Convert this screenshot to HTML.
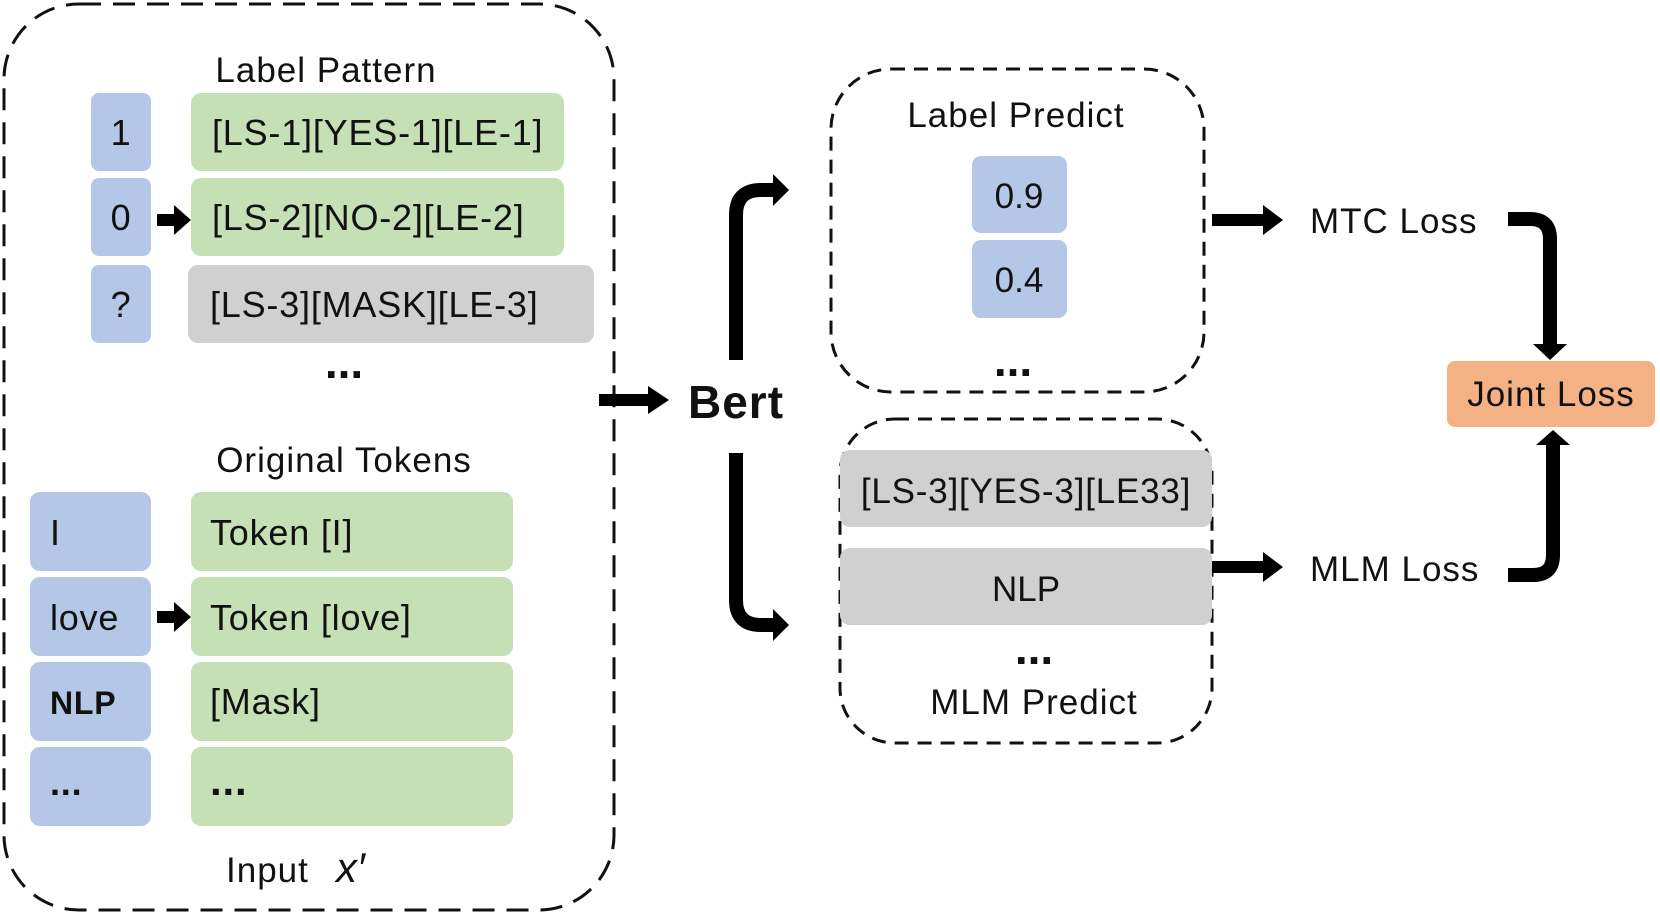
<!DOCTYPE html>
<html><head><meta charset="utf-8"><style>
body{margin:0;background:#fff;}
svg text{font-family:"Liberation Sans",sans-serif;fill:#111;}
</style></head><body>
<svg width="1660" height="918" viewBox="0 0 1660 918" xmlns="http://www.w3.org/2000/svg">
<rect x="4" y="4" width="610" height="906" rx="75" fill="none" stroke="#111" stroke-width="3" stroke-dasharray="22,12"/>
<text x="326" y="82" font-size="35" text-anchor="middle" letter-spacing="1">Label Pattern</text>
<g fill="#b4c7e7">
<rect x="91" y="93" width="60" height="78" rx="8"/>
<rect x="91" y="178" width="60" height="78" rx="8"/>
<rect x="91" y="265" width="60" height="78" rx="8"/>
</g>
<g fill="#c5e0b4">
<rect x="191" y="93" width="373" height="78" rx="10"/>
<rect x="191" y="178" width="373" height="78" rx="10"/>
</g>
<rect x="188" y="265" width="406" height="78" rx="10" fill="#d0d0d0"/>
<g font-size="36" letter-spacing="0.8">
<text x="121" y="145" text-anchor="middle">1</text>
<text x="121" y="230" text-anchor="middle">0</text>
<text x="121" y="317" text-anchor="middle">?</text>
<text x="212" y="145">[LS-1][YES-1][LE-1]</text>
<text x="212" y="230">[LS-2][NO-2][LE-2]</text>
<text x="210" y="317">[LS-3][MASK][LE-3]</text>
</g>
<text x="344" y="378" font-size="46" font-weight="bold" text-anchor="middle">...</text>
<text x="344" y="472" font-size="35" text-anchor="middle" letter-spacing="1">Original Tokens</text>
<g fill="#b4c7e7">
<rect x="30" y="492" width="121" height="79" rx="10"/>
<rect x="30" y="577" width="121" height="79" rx="10"/>
<rect x="30" y="662" width="121" height="79" rx="10"/>
<rect x="30" y="747" width="121" height="79" rx="10"/>
</g>
<g fill="#c5e0b4">
<rect x="191" y="492" width="322" height="79" rx="10"/>
<rect x="191" y="577" width="322" height="79" rx="10"/>
<rect x="191" y="662" width="322" height="79" rx="10"/>
<rect x="191" y="747" width="322" height="79" rx="10"/>
</g>
<g font-size="36" letter-spacing="0.8">
<text x="50" y="545">I</text>
<text x="50" y="630">love</text>
<text x="50" y="714" font-weight="bold" font-size="32">NLP</text>
<text x="50" y="795" font-weight="bold" font-size="36">...</text>
<text x="210" y="545">Token [I]</text>
<text x="210" y="630">Token [love]</text>
<text x="210" y="714">[Mask]</text>
<text x="210" y="795" font-weight="bold" font-size="42">...</text>
</g>
<text x="226" y="882" font-size="35" letter-spacing="1">Input</text>
<text x="336" y="882" font-size="42" font-style="italic" font-family="Liberation Serif, serif">x′</text>
<g fill="#000">
<polygon points="157,214 174,214 174,205 191,220 174,235 174,226 157,226"/>
<polygon points="157,611 174,611 174,602 191,617 174,632 174,623 157,623"/>
<polygon points="599,394 648,394 648,386 669,400 648,414 648,406 599,406"/>
</g>
<text x="688" y="418" font-size="46" font-weight="bold" letter-spacing="1">Bert</text>
<g fill="none" stroke="#000" stroke-width="14">
<path d="M736,360 V215 Q736,190 761,190 H776"/>
<path d="M736,453 V600 Q736,625 761,625 H776"/>
</g>
<g fill="#000">
<polygon points="773,174 789,190 773,206"/>
<polygon points="773,609 789,625 773,641"/>
</g>
<rect x="831" y="69" width="373" height="323" rx="60" fill="none" stroke="#111" stroke-width="3" stroke-dasharray="14,9"/>
<text x="1016" y="127" font-size="35" text-anchor="middle" letter-spacing="1">Label Predict</text>
<rect x="972" y="156" width="95" height="77" rx="9" fill="#b4c7e7"/>
<rect x="972" y="240" width="95" height="78" rx="9" fill="#b4c7e7"/>
<text x="1019" y="208" font-size="35" text-anchor="middle">0.9</text>
<text x="1019" y="292" font-size="35" text-anchor="middle">0.4</text>
<text x="1013" y="376" font-size="46" font-weight="bold" text-anchor="middle">...</text>
<rect x="840" y="419" width="372" height="324" rx="55" fill="none" stroke="#111" stroke-width="3" stroke-dasharray="14,9"/>
<rect x="840" y="450" width="372" height="77" rx="10" fill="#d0d0d0"/>
<rect x="840" y="548" width="372" height="77" rx="10" fill="#d0d0d0"/>
<text x="1026" y="503" font-size="35" text-anchor="middle" letter-spacing="0.8">[LS-3][YES-3][LE33]</text>
<text x="1026" y="601" font-size="35" text-anchor="middle">NLP</text>
<text x="1034" y="664" font-size="46" font-weight="bold" text-anchor="middle">...</text>
<text x="1034" y="714" font-size="35" text-anchor="middle" letter-spacing="1">MLM Predict</text>
<g fill="#000">
<polygon points="1212,214 1263,214 1263,205 1283,220 1263,235 1263,226 1212,226"/>
<polygon points="1212,561 1263,561 1263,552 1283,567 1263,582 1263,573 1212,573"/>
</g>
<text x="1310" y="233" font-size="35" letter-spacing="1">MTC Loss</text>
<text x="1310" y="581" font-size="35" letter-spacing="1">MLM Loss</text>
<rect x="1447" y="361" width="208" height="66" rx="8" fill="#f4b183"/>
<text x="1551" y="406" font-size="35" text-anchor="middle" letter-spacing="1">Joint Loss</text>
<g fill="none" stroke="#000" stroke-width="14">
<path d="M1508,219 H1530 Q1550,219 1550,239 V345"/>
<path d="M1508,575 H1533 Q1553,575 1553,555 V445"/>
</g>
<g fill="#000">
<polygon points="1533,344 1567,344 1550,360"/>
<polygon points="1536,445 1570,445 1553,430"/>
</g>
</svg>
</body></html>
